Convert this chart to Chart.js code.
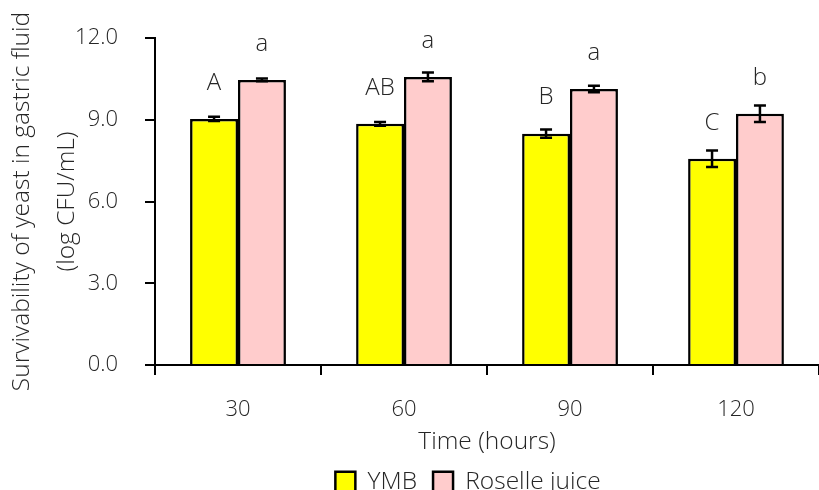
<!DOCTYPE html>
<html>
<head>
<meta charset="utf-8">
<script src="https://cdn.jsdelivr.net/npm/chart.js@4/dist/chart.umd.min.js"></script>
<style>
html,body{margin:0;padding:0;background:#fff;overflow:hidden;}
#wrap{width:819px;height:490px;position:relative;}
</style>
</head>
<body>
<div id="wrap"><canvas id="c" width="819" height="490"></canvas></div>
<script>
const categories = ['30', '60', '90', '120'];
const ymbValues = [9.03, 8.85, 8.49, 7.57];
const ymbErrors = [0.08, 0.07, 0.15, 0.30];
const roselleValues = [10.46, 10.57, 10.13, 9.22];
const roselleErrors = [0.05, 0.16, 0.12, 0.30];
const ymbLetters = ['A', 'AB', 'B', 'C'];
const roselleLetters = ['a', 'a', 'a', 'b'];
const yTicks = [0, 3, 6, 9, 12];

const FONT = "'Open Sans', 'Noto Sans', sans-serif";
const TEXT = '#262626';
const W = 300;

const errorsByDataset = [ymbErrors, roselleErrors];
const lettersByDataset = [ymbLetters, roselleLetters];

const annotate = {
  id: 'annotate',
  afterLayout(chart) {
    const lg = chart.legend;
    if (lg) {
      const dx = 468 - (lg.left + lg.right) / 2;
      lg.left += dx; lg.right += dx;
    }
  },
  afterDatasetsDraw(chart) {
    const ctx = chart.ctx;
    const ys = chart.scales.y;
    ctx.save();
    chart.data.datasets.forEach((ds, di) => {
      const meta = chart.getDatasetMeta(di);
      meta.data.forEach((bar, i) => {
        const v = ds.data[i];
        const e = errorsByDataset[di][i];
        const yTop = ys.getPixelForValue(v + e);
        const yBot = ys.getPixelForValue(v - e);
        ctx.strokeStyle = '#000';
        ctx.lineWidth = 2.5;
        ctx.beginPath();
        ctx.moveTo(bar.x, yTop); ctx.lineTo(bar.x, yBot);
        ctx.moveTo(bar.x - 6, yTop); ctx.lineTo(bar.x + 6, yTop);
        ctx.moveTo(bar.x - 6, yBot); ctx.lineTo(bar.x + 6, yBot);
        ctx.stroke();
        ctx.fillStyle = TEXT;
        ctx.font = W + " 24px " + FONT;
        ctx.textAlign = 'center';
        ctx.textBaseline = 'middle';
        ctx.fillText(lettersByDataset[di][i], bar.x, bar.y - 36);
      });
    });
    ctx.restore();
  }
};

new Chart(document.getElementById('c'), {
  type: 'bar',
  data: {
    labels: categories,
    datasets: [
      { label: 'YMB', data: ymbValues, backgroundColor: '#FFFF00', borderColor: '#000', borderWidth: 2.5 },
      { label: 'Roselle juice', data: roselleValues, backgroundColor: '#FFCCCC', borderColor: '#000', borderWidth: 2.5 }
    ]
  },
  options: {
    responsive: false,
    animation: false,
    events: [],
    layout: { padding: { top: 37, right: -8, left: 0, bottom: -14 } },
    datasets: { bar: { categoryPercentage: 0.577, barPercentage: 1.0 } },
    plugins: {
      tooltip: { enabled: false },
      legend: {
        position: 'bottom',
        labels: {
          color: TEXT,
          font: { family: FONT, size: 24.5, weight: W },
          boxWidth: 20, boxHeight: 20,
          padding: 16
        }
      }
    },
    scales: {
      x: {
        grid: { drawOnChartArea: false, drawTicks: true, tickLength: 10, color: '#000', lineWidth: 2, offset: true },
        border: { color: '#000', width: 2 },
        ticks: { color: TEXT, font: { family: FONT, size: 22, weight: W }, padding: 22, maxRotation: 0 },
        title: { display: true, text: 'Time (hours)', color: TEXT, font: { family: FONT, size: 24.5, weight: W }, padding: { top: 0, bottom: -3 } },
        afterFit(s) { s.height = 88.5; }
      },
      y: {
        min: 0, max: 12,
        afterBuildTicks(s) { s.ticks = yTicks.map(v => ({ value: v })); },
        grid: { drawOnChartArea: false, drawTicks: true, tickLength: 10, color: '#000', lineWidth: 2 },
        border: { color: '#000', width: 2 },
        ticks: { color: TEXT, font: { family: FONT, size: 22, weight: W, lineHeight: 1.0 }, padding: 27, callback: v => Number(v).toFixed(1) },
        title: {
          display: true,
          text: ['Survivability of yeast in gastric fluid', '(log CFU/mL)'],
          color: TEXT,
          font: { family: FONT, size: 24.5, weight: W, lineHeight: 1.837 },
          padding: { top: 0, bottom: 0 }
        },
        afterFit(s) { s.width = 155; }
      }
    }
  },
  plugins: [annotate]
});
</script>
</body>
</html>
